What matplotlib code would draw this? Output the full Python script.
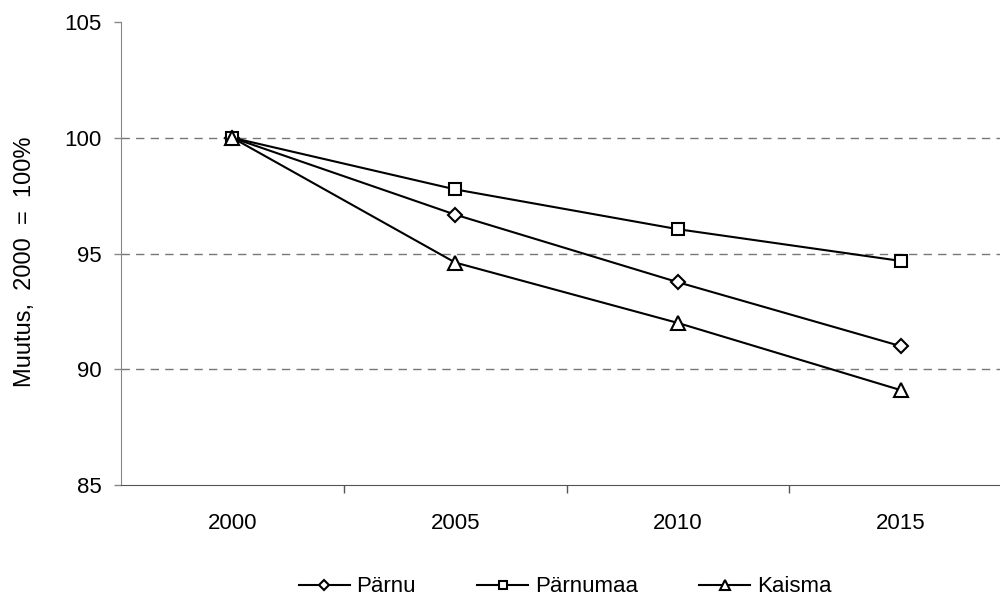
import matplotlib
matplotlib.use("Agg")
import matplotlib.pyplot as plt

plt.rcParams["font.family"] = ["Liberation Sans", "DejaVu Sans"]

years = ["2000", "2005", "2010", "2015"]
parnu = [100.0, 96.68, 93.76, 91.0]
parnumaa = [100.0, 97.77, 96.05, 94.68]
kaisma = [100.0, 94.61, 92.0, 89.1]

fig = plt.figure(figsize=(10, 6.04), dpi=100)
ax = fig.add_axes([0.121, 1 - 485 / 604, 0.891, (485 - 22) / 604])

x = range(len(years))
style = dict(color="black", linewidth=1.5, markerfacecolor="white",
             markeredgecolor="black", markeredgewidth=1.5)
ax.plot(x, parnu, marker="D", markersize=7, label="Pärnu", **style)
ax.plot(x, parnumaa, marker="s", markersize=8.5, label="Pärnumaa", **style)
ax.plot(x, kaisma, marker="^", markersize=9.5, label="Kaisma", **style)

ax.set_xlim(-0.5, len(years) - 0.5)
ax.set_ylim(85, 105)
ax.set_yticks([85, 90, 95, 100, 105])
ax.set_xticks(list(x))
ax.set_xticklabels(years)
ax.set_xticks([0.5, 1.5, 2.5], minor=True)
ax.tick_params(axis="x", which="major", length=0, pad=20, labelsize=16)
ax.tick_params(axis="x", which="minor", length=6, color="#555555", width=1)
ax.tick_params(axis="y", length=5, color="#888888", width=1, labelsize=16, pad=9)

for y in [90, 95, 100]:
    ax.axhline(y, color="#777777", linewidth=1, linestyle=(0, (6, 4.5)), zorder=0)

ax.spines["top"].set_visible(False)
ax.spines["right"].set_visible(False)
ax.spines["left"].set_color("#888888")
ax.spines["bottom"].set_color("#555555")

ax.set_ylabel("Muutus,  2000  =  100%", fontsize=17)
ax.yaxis.set_label_coords(-0.095, 0.482)

# legend centred under the plot area
fig.legend(loc="center", bbox_to_anchor=(0.565, 1 - 587 / 604), ncol=3, frameon=False,
           fontsize=16, handlelength=2.3, columnspacing=2.75, handletextpad=0.3,
           markerscale=0.7)

fig.savefig("out.png", dpi=100)
